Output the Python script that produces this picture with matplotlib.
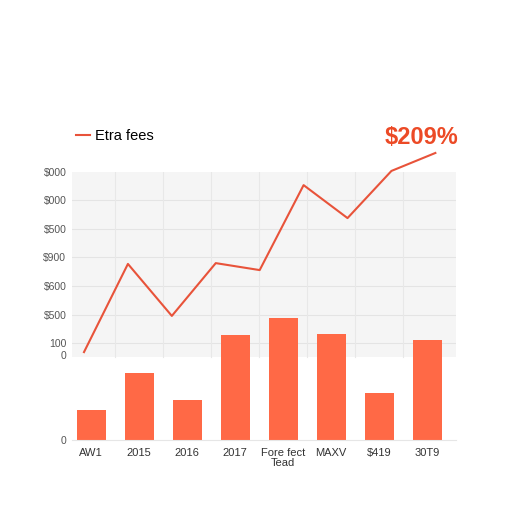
import numpy as np
import matplotlib
matplotlib.use("Agg")
import matplotlib.pyplot as plt

plt.rcParams['font.family'] = ['Liberation Sans', 'DejaVu Sans']

# data
categories = ["AW1", "2015", "2016", "2017", "Fore fect\nTead", "MAXV", "$419", "30T9"]
bar_values = [112, 250, 149, 392, 455, 396, 175, 373]
line_values = [328, 657, 463, 660, 634, 951, 828, 1004, 1071]
tick_pos = [0, 317, 362, 467, 574, 681, 788, 895, 1000]
tick_labels = ["0", "0", "100", "$500", "$600", "$900", "$500", "$000", "$000"]
grid_pos = [362, 467, 574, 681, 788, 895]

bar_color = '#ff6946'
line_color = '#e8533a'

fig = plt.figure(figsize=(5.12, 5.12), dpi=100)
ax = fig.add_axes([72/512, 72/512, 384/512, 268/512])

x = np.arange(len(categories))
line_x = np.linspace(-0.15, 7.17, len(line_values))

ax.set_xlim(-0.4, 7.6)
ax.set_ylim(0, 1000)

# grey panel behind the line
ax.axhspan(310, 1000, color='#f5f5f5', zorder=0, lw=0)
for g in grid_pos:
    ax.axhline(g, color='#e4e4e4', lw=0.8, zorder=0.5)
for gx in np.arange(0.5, 7, 1.0):
    ax.plot([gx, gx], [310, 1000], color='#e8e8e8', lw=0.8, zorder=0.5)

ax.bar(x, bar_values, width=0.6, color=bar_color, zorder=2)
ax.plot(line_x, line_values, color=line_color, lw=1.5, zorder=3, clip_on=False,
        label="Etra fees")

ax.annotate("$209%", (line_x[-1], line_values[-1]), textcoords="offset points",
            xytext=(-10, 3), ha='center', va='bottom', fontsize=17,
            fontweight='bold', color='#ec4a26', annotation_clip=False)

for s in ['top', 'right', 'left']:
    ax.spines[s].set_visible(False)
ax.spines['bottom'].set_color('#e6e6e6')

ax.set_xticks(x)
ax.set_xticklabels(categories, fontsize=8, color='#333333', linespacing=0.9)
ax.set_yticks(tick_pos)
ax.set_yticklabels(tick_labels, fontsize=7.5, color='#555555')
ax.tick_params(length=0, pad=6)
ax.tick_params(axis='y', pad=4)

ax.legend(loc='lower left', bbox_to_anchor=(-0.005, 1.085), frameon=False,
          fontsize=10.5, handlelength=1.0, handletextpad=0.3, borderaxespad=0)

plt.savefig("out.png", dpi=100)
